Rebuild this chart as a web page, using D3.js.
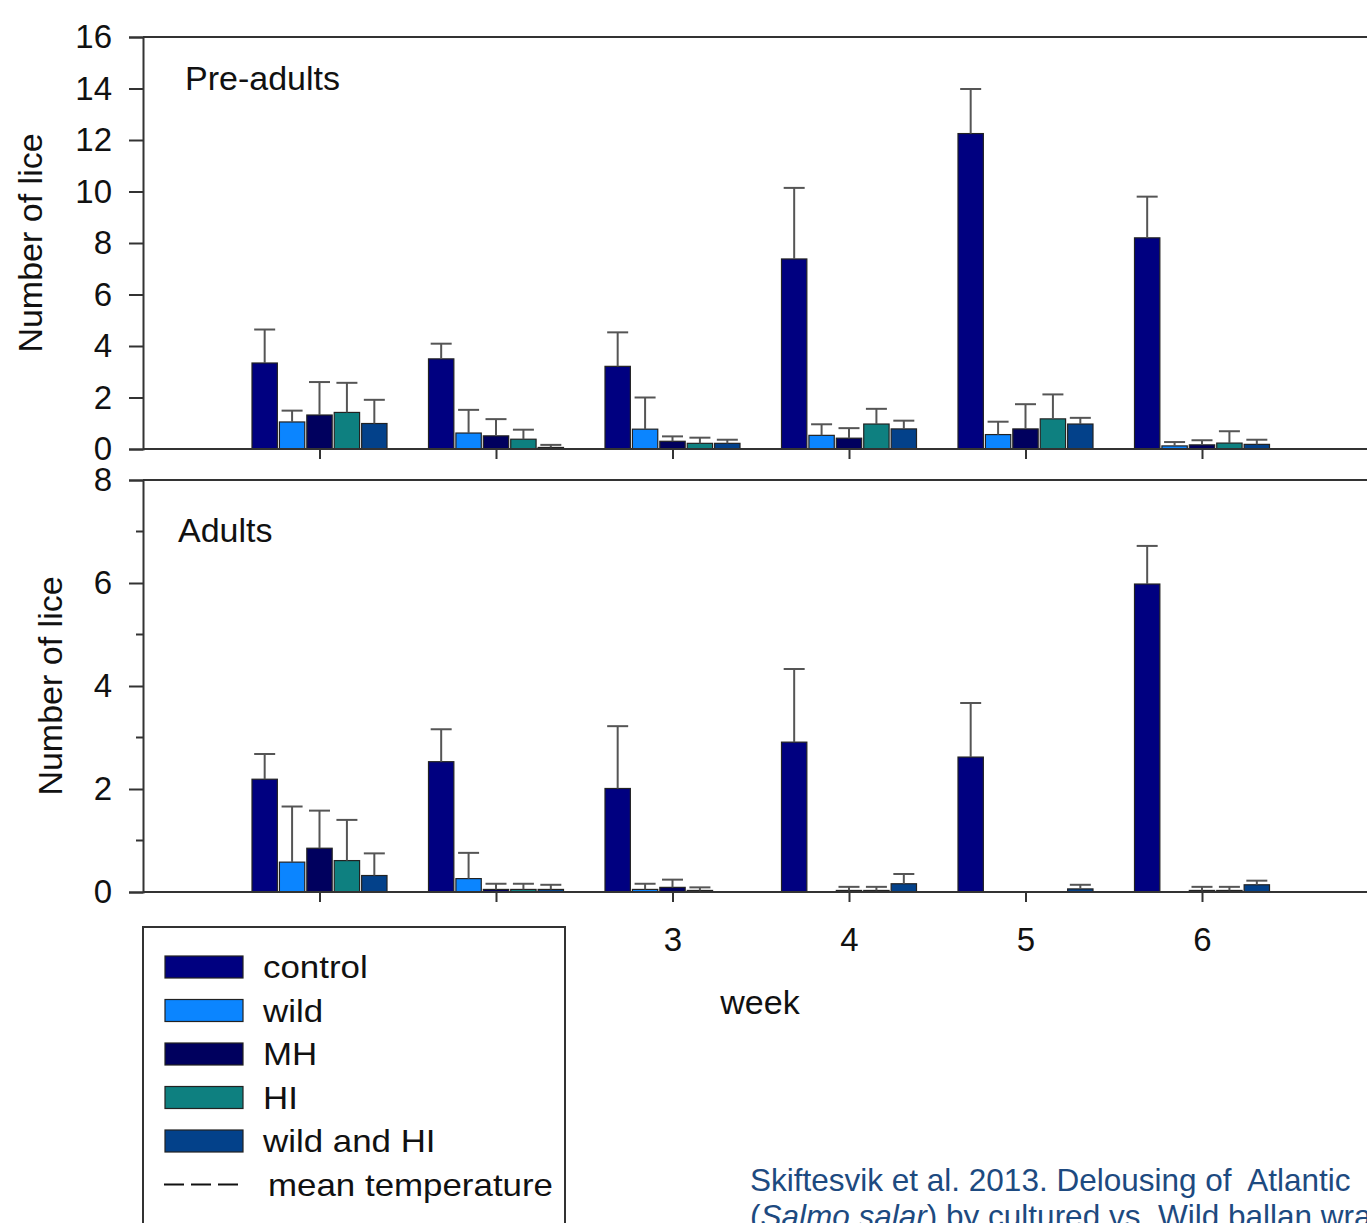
<!DOCTYPE html>
<html>
<head>
<meta charset="utf-8">
<script src="https://cdn.jsdelivr.net/npm/d3@7/dist/d3.min.js"></script>
<style>
  html, body { margin: 0; padding: 0; background: #ffffff; }
  svg { display: block; font-family: "Liberation Sans", Arial, sans-serif; }
</style>
</head>
<body>
<svg id="chart" width="1367" height="1223"></svg>
<script>
// ---------------- data ----------------
const weeks = [1, 2, 3, 4, 5, 6];
const seriesNames = ["control", "wild", "MH", "HI", "wild and HI"];
const seriesColors = ["#000080", "#0b85ff", "#00005e", "#0e8080", "#03418a"];

// Pre-adults: means per series (weeks 1..6)
const preControl = [3.34, 3.50, 3.21, 7.38, 12.25, 8.20];
const preWild    = [1.05, 0.62, 0.77, 0.53, 0.56, 0.12];
const preMH      = [1.32, 0.51, 0.30, 0.42, 0.78, 0.16];
const preHI      = [1.42, 0.38, 0.22, 0.97, 1.17, 0.23];
const preWildHI  = [0.99, 0.06, 0.22, 0.78, 0.97, 0.18];
// Pre-adults: standard errors
const preControlSE = [1.30, 0.59, 1.32, 2.76, 1.73, 1.60];
const preWildSE    = [0.44, 0.90, 1.23, 0.43, 0.50, 0.15];
const preMHSE      = [1.28, 0.65, 0.19, 0.39, 0.96, 0.18];
const preHISE      = [1.15, 0.37, 0.22, 0.59, 0.95, 0.46];
const preWildHISE  = [0.92, 0.10, 0.14, 0.32, 0.24, 0.18];

// Adults: means
const adControl = [2.19, 2.53, 2.01, 2.91, 2.62, 5.98];
const adWild    = [0.58, 0.26, 0.05, 0.00, 0.00, 0.00];
const adMH      = [0.85, 0.05, 0.09, 0.03, 0.00, 0.03];
const adHI      = [0.61, 0.05, 0.03, 0.03, 0.00, 0.03];
const adWildHI  = [0.32, 0.05, 0.00, 0.16, 0.06, 0.14];
// Adults: standard errors
const adControlSE = [0.49, 0.63, 1.21, 1.42, 1.05, 0.74];
const adWildSE    = [1.08, 0.50, 0.11, 0.00, 0.00, 0.00];
const adMHSE      = [0.73, 0.11, 0.15, 0.07, 0.00, 0.07];
const adHISE      = [0.79, 0.11, 0.06, 0.07, 0.00, 0.07];
const adWildHISE  = [0.43, 0.09, 0.00, 0.19, 0.08, 0.08];

const preTicks = [0, 2, 4, 6, 8, 10, 12, 14, 16];
const adTicks = [0, 2, 4, 6, 8];
const adMinorTicks = [1, 3, 5, 7];

const yLabel = "Number of lice";
const xLabel = "week";
const legendExtra = "mean temperature";
const citeLine1 = "Skiftesvik et al. 2013. Delousing of  Atlantic";
const citeLine2a = "(";
const citeLine2b = "Salmo salar";
const citeLine2c = ") by cultured vs. Wild ballan wrasse";

// ---------------- layout ----------------
const svg = d3.select("#chart");
svg.append("rect").attr("width", 1367).attr("height", 1223).attr("fill", "#fff");

const x = d3.scaleLinear().domain([0, 7]).range([143, 143 + 7 * 176.5]);
const inner = d3.scaleBand().domain(seriesNames).range([-67.5, 67.5]).paddingInner(0.075);

const fontSize = 33;
const axisColor = "#333";

function panel(cfg) {
  const g = svg.append("g");
  const y = d3.scaleLinear().domain(cfg.domain).range(cfg.range);
  const means = cfg.means, ses = cfg.ses;

  // frame top line (top of panel)
  g.append("line")
    .attr("x1", x(0)).attr("x2", 1367)
    .attr("y1", y(cfg.domain[1])).attr("y2", y(cfg.domain[1]))
    .attr("stroke", axisColor).attr("stroke-width", 2);

  // bars
  seriesNames.forEach((s, si) => {
    weeks.forEach((w, wi) => {
      const v = means[si][wi];
      if (v <= 0) return;
      const bx = x(w) + inner(s);
      g.append("rect")
        .attr("x", bx).attr("width", inner.bandwidth())
        .attr("y", y(v)).attr("height", y(0) - y(v))
        .attr("fill", seriesColors[si])
        .attr("stroke", "#222").attr("stroke-width", 1.2);
    });
  });
  // error bars (upper)
  seriesNames.forEach((s, si) => {
    weeks.forEach((w, wi) => {
      const v = means[si][wi], e = ses[si][wi];
      if (e <= 0) return;
      const cx = x(w) + inner(s) + inner.bandwidth() / 2;
      g.append("line").attr("x1", cx).attr("x2", cx)
        .attr("y1", y(v)).attr("y2", y(v + e))
        .attr("stroke", "#555").attr("stroke-width", 2);
      g.append("line").attr("x1", cx - 10.5).attr("x2", cx + 10.5)
        .attr("y1", y(v + e)).attr("y2", y(v + e))
        .attr("stroke", "#555").attr("stroke-width", 2);
    });
  });

  // y axis
  const ya = g.append("g").attr("transform", `translate(${x(0)},0)`)
    .call(d3.axisLeft(y).tickValues(cfg.ticks).tickSize(14).tickPadding(17).tickFormat(d3.format("d")));
  ya.select(".domain").attr("stroke", axisColor).attr("stroke-width", 2);
  ya.selectAll(".tick line").attr("stroke", axisColor).attr("stroke-width", 2);
  ya.selectAll(".tick text").attr("font-size", fontSize).attr("fill", "#111")
    .attr("font-family", "Liberation Sans, Arial, sans-serif");
  if (cfg.minor) {
    g.selectAll(".minor").data(cfg.minor).join("line")
      .attr("x1", x(0) - 7).attr("x2", x(0))
      .attr("y1", d => y(d)).attr("y2", d => y(d))
      .attr("stroke", axisColor).attr("stroke-width", 2);
  }

  // x axis line + ticks
  const xa = g.append("g").attr("transform", `translate(0,${y(0)})`)
    .call(d3.axisBottom(x).tickValues(weeks).tickSize(10).tickPadding(26)
      .tickFormat(cfg.xLabels ? d3.format("d") : () => ""));
  xa.select(".domain").attr("d", `M${x(0)},0H1367`).attr("stroke", axisColor).attr("stroke-width", 2);
  xa.selectAll(".tick line").attr("stroke", axisColor).attr("stroke-width", 2);
  xa.selectAll(".tick text").attr("font-size", fontSize).attr("fill", "#111")
    .attr("font-family", "Liberation Sans, Arial, sans-serif");

  // panel title
  g.append("text").attr("x", cfg.titleX).attr("y", cfg.titleY)
    .attr("font-size", fontSize + 1).attr("fill", "#111").text(cfg.title);

  // y label
  g.append("text")
    .attr("transform", `translate(${cfg.ylabX},${cfg.ylabY}) rotate(-90)`)
    .attr("text-anchor", "middle").attr("font-size", 34).attr("fill", "#111")
    .text(yLabel);
  return y;
}

panel({
  domain: [0, 16], range: [449, 37], ticks: preTicks,
  means: [preControl, preWild, preMH, preHI, preWildHI],
  ses: [preControlSE, preWildSE, preMHSE, preHISE, preWildHISE],
  title: "Pre-adults", titleX: 185, titleY: 90,
  ylabX: 42, ylabY: 243, xLabels: false
});

panel({
  domain: [0, 8], range: [892, 480], ticks: adTicks, minor: adMinorTicks,
  means: [adControl, adWild, adMH, adHI, adWildHI],
  ses: [adControlSE, adWildSE, adMHSE, adHISE, adWildHISE],
  title: "Adults", titleX: 178, titleY: 542,
  ylabX: 62, ylabY: 686, xLabels: true
});

// x label
svg.append("text").attr("x", 760).attr("y", 1014).attr("text-anchor", "middle")
  .attr("font-size", 34).attr("fill", "#111").text(xLabel);

// legend
const lg = svg.append("g");
lg.append("rect").attr("x", 143).attr("y", 927).attr("width", 422).attr("height", 330)
  .attr("fill", "#fff").attr("stroke", "#333").attr("stroke-width", 2);
const rowY = d3.scaleLinear().domain([0, 1]).range([967, 1010.5]);
seriesNames.forEach((s, i) => {
  lg.append("rect").attr("x", 165).attr("y", rowY(i) - 11).attr("width", 78).attr("height", 22)
    .attr("fill", seriesColors[i]).attr("stroke", "#222").attr("stroke-width", 1.2);
  lg.append("text").attr("transform", `translate(263,${rowY(i) + 11}) scale(1.09,1)`)
    .attr("font-size", 32).attr("fill", "#111").text(s);
});
lg.append("line").attr("x1", 164).attr("x2", 238).attr("y1", rowY(5)).attr("y2", rowY(5))
  .attr("stroke", "#111").attr("stroke-width", 2).attr("stroke-dasharray", "20,7");
lg.append("text").attr("transform", `translate(268,${rowY(5) + 11}) scale(1.09,1)`)
  .attr("font-size", 32).attr("fill", "#111").text(legendExtra);

// citation
const cite = svg.append("g").attr("fill", "#1d4a80").attr("font-size", 31.5)
  .style("white-space", "pre");
cite.append("text").attr("x", 750).attr("y", 1191).attr("xml:space", "preserve").text(citeLine1);
const t2 = cite.append("text").attr("x", 750).attr("y", 1227);
t2.append("tspan").text(citeLine2a);
t2.append("tspan").attr("font-style", "italic").text(citeLine2b);
t2.append("tspan").text(citeLine2c);
</script>
</body>
</html>
